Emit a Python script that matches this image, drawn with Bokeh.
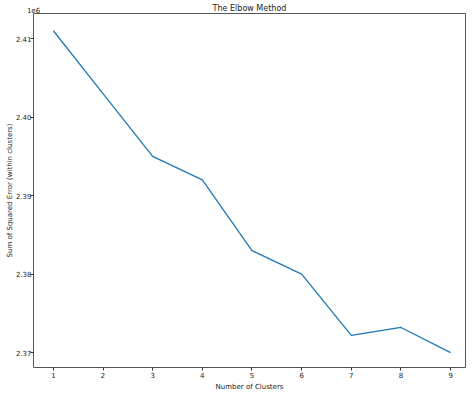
from bokeh.plotting import figure
from bokeh.models import Range1d, FixedTicker, CustomJSTickFormatter, LinearAxis
from bokeh.embed import file_html
from bokeh.resources import INLINE

clusters = [1, 2, 3, 4, 5, 6, 7, 8, 9]
sse = [2411000, 2403000, 2395000, 2392000, 2383000, 2380000, 2372200, 2373200, 2370000]
y_ticks = [2370000, 2380000, 2390000, 2400000, 2410000]
x_ticks = [1, 2, 3, 4, 5, 6, 7, 8, 9]
title_text = "The Elbow Method"
offset_text = "1e6"

FONT = "DejaVu Sans"
TXT = "#222222"
X0, X1 = 0.6, 9.3

p = figure(width=474, height=393, output_backend="svg", toolbar_location=None,
           x_range=Range1d(X0, X1), y_range=Range1d(2368100, 2413200))
p.min_border_left = 33
p.min_border_right = 9
p.min_border_top = 13
p.min_border_bottom = 25

p.line(clusters, sse, line_color="#1f77b4", line_width=1.3)

p.grid.visible = False
p.outline_line_color = "#555555"
p.outline_line_width = 1

xax = p.below[0]
yax = p.left[0]

for ax in (xax, yax):
    ax.axis_line_color = None
    ax.major_tick_in = 0
    ax.major_tick_out = 3
    ax.major_tick_line_color = "#333333"
    ax.minor_tick_line_color = None
    ax.major_label_text_font = FONT
    ax.major_label_text_font_size = "7px"
    ax.major_label_text_color = TXT
    ax.axis_label_text_font = FONT
    ax.axis_label_text_font_size = "7px"
    ax.axis_label_text_font_style = "normal"
    ax.axis_label_text_color = TXT
    ax.major_label_standoff = 1
    ax.axis_label_standoff = 2

yax.major_label_standoff = -1
yax.axis_label_standoff = -1

xax.ticker = FixedTicker(ticks=x_ticks)
yax.ticker = FixedTicker(ticks=y_ticks)
yax.formatter = CustomJSTickFormatter(code="return (tick/1e6).toFixed(2);")
xax.axis_label = "Number of Clusters"
yax.axis_label = "Sum of Squared Error (within clusters)"

# top axis: carries the title (axis label) and the "1e6" offset text (tick label)
top = LinearAxis(ticker=FixedTicker(ticks=[X0]),
                 formatter=CustomJSTickFormatter(code="return '%s';" % offset_text))
top.axis_line_color = None
top.major_tick_line_color = None
top.minor_tick_line_color = None
top.major_tick_in = 0
top.major_tick_out = 0
top.major_label_text_align = "left"
top.major_label_text_font = FONT
top.major_label_text_font_size = "7px"
top.major_label_text_color = TXT
top.major_label_standoff = 1
top.axis_label = title_text
top.axis_label_text_font = FONT
top.axis_label_text_font_size = "8px"
top.axis_label_text_font_style = "normal"
top.axis_label_text_color = TXT
top.axis_label_standoff = -9
p.add_layout(top, "above")

open("out.html", "w").write(file_html(p, INLINE))
